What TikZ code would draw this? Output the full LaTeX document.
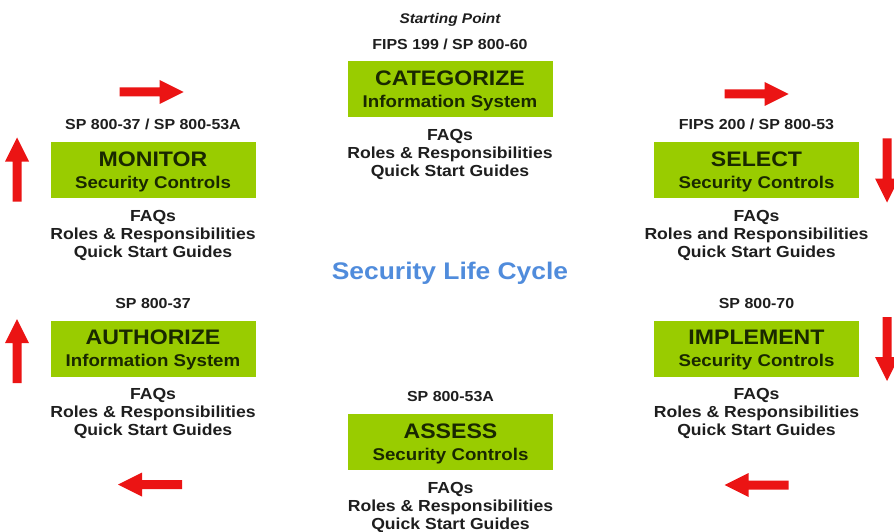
\documentclass[tikz,border=0pt]{standalone}
\usepackage{fontspec}
\usetikzlibrary{calc}
\newfontfamily\arialx[FakeStretch=1.1]{Liberation Sans}
\definecolor{boxgreen}{RGB}{153,204,0}
\definecolor{boxtext}{RGB}{25,40,0}
\definecolor{labtext}{RGB}{30,30,30}
\definecolor{arrred}{RGB}{235,20,20}
\definecolor{cycleblue}{RGB}{80,140,220}
\tikzset{
 modbox/.style={fill=boxgreen, minimum width=205pt, minimum height=56pt, inner sep=0pt, draw=none},
 boxtitle/.style={anchor=base, inner sep=0pt, text=boxtext, font=\arialx\bfseries\fontsize{21}{21}\selectfont},
 boxsub/.style={anchor=base, inner sep=0pt, text=boxtext, font=\arialx\bfseries\fontsize{17}{17}\selectfont},
 doclabel/.style={anchor=base, inner sep=0pt, text=labtext, font=\arialx\bfseries\fontsize{14.5}{14.5}\selectfont},
 faqtext/.style={anchor=north, inner sep=0pt, align=center, text=labtext, font=\arialx\bfseries\fontsize{16}{18}\selectfont},
 blockarr/.pic={\fill[arrred] (-32,-4.5) -- (8,-4.5) -- (8,-12) -- (32,0) -- (8,12) -- (8,4.5) -- (-32,4.5) -- cycle;}
}
\newcommand\lcmod[7]{%
 \node[modbox] (#1) at (#2,#3) {};
 \node[boxtitle] (#1title) at ($(#1.center)+(0,-4)$) {#5};
 \node[boxsub] (#1sub) at ($(#1.center)+(0,18)$) {#6};
 \node[doclabel] (#1label) at ($(#1.north)+(0,-12)$) {#4};
 \node[faqtext] (#1faq) at ($(#1.south)+(0,11.5)$) {FAQs\\#7\\Quick Start Guides};
}
\begin{document}
\begin{tikzpicture}[x=1pt,y=-1pt]
\useasboundingbox (0,0) rectangle (894,532);
\fill[white] (0,0) rectangle (894,532);
\node[anchor=base, inner sep=0pt, text=labtext, font=\arialx\bfseries\itshape\fontsize{14}{14}\selectfont] (start) at (450,23.5) {Starting Point};
\lcmod{categorize}{450}{89.5}{FIPS 199 / SP 800-60}{CATEGORIZE}{Information System}{Roles \& Responsibilities}
\lcmod{select}{756.5}{170}{FIPS 200 / SP 800-53}{SELECT}{Security Controls}{Roles and Responsibilities}
\lcmod{implement}{756.5}{348.5}{SP 800-70}{IMPLEMENT}{Security Controls}{Roles \& Responsibilities}
\lcmod{assess}{450.5}{442}{SP 800-53A}{ASSESS}{Security Controls}{Roles \& Responsibilities}
\lcmod{authorize}{153}{348.5}{SP 800-37}{AUTHORIZE}{Information System}{Roles \& Responsibilities}
\lcmod{monitor}{153}{170}{SP 800-37 / SP 800-53A}{MONITOR}{Security Controls}{Roles \& Responsibilities}
\node[anchor=base, inner sep=0pt, text=cycleblue, font=\arialx\bfseries\fontsize{24}{24}\selectfont] (cycle) at (450,279) {Security Life Cycle};
\pic at (151.5,92) {blockarr};
\pic at (756.5,94) {blockarr};
\pic[rotate=-90] at (887,170.5) {blockarr};
\pic[rotate=-90] at (887,349) {blockarr};
\pic[rotate=180] at (756.5,485) {blockarr};
\pic[rotate=180] at (150,484.5) {blockarr};
\pic[rotate=90] at (17,351) {blockarr};
\pic[rotate=90] at (17,169.5) {blockarr};
\end{tikzpicture}
\end{document}
